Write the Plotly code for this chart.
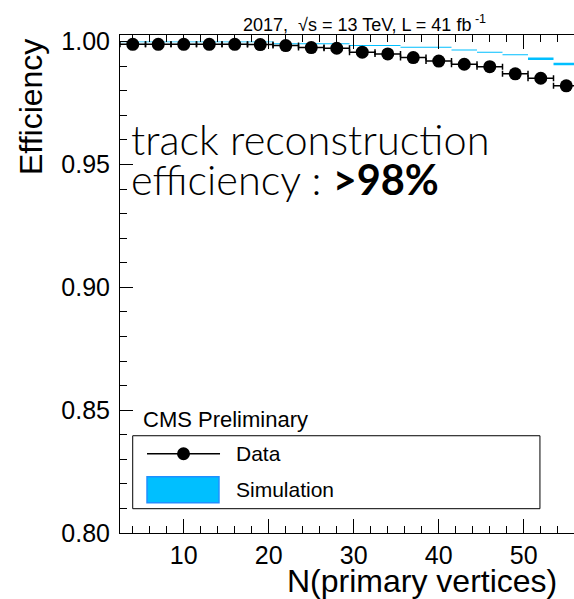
import plotly.graph_objects as go

# Number of primary vertices: bin centres, bin half-widths and bin edges
nvtx = [4, 7, 10, 13, 16, 19, 22, 25, 28, 31, 34, 37, 40, 43, 46, 49, 52, 55]
nvtx_halfwidth = [1.5, 1.5, 1.5, 1.5, 1.5, 1.5, 1.5, 1.5, 1.5,
                  1.5, 1.5, 1.5, 1.5, 1.5, 1.5, 1.5, 1.5, 1.5]
nvtx_edges = [2.5, 5.5, 8.5, 11.5, 14.5, 17.5, 20.5, 23.5, 26.5, 29.5,
              32.5, 35.5, 38.5, 41.5, 44.5, 47.5, 50.5, 53.5, 56.5]

# Track reconstruction efficiency in data
eff_data = [0.9989, 0.9989, 0.9989, 0.9989, 0.9989, 0.9988, 0.9984, 0.9976, 0.9973,
            0.9957, 0.9950, 0.9935, 0.9921, 0.9908, 0.9898, 0.9869, 0.9851, 0.9820]

# Simulated efficiency and its uncertainty
eff_sim = [0.9999, 0.9999, 0.9999, 0.9999, 0.9999, 0.9999, 0.9991, 0.9991, 0.9991,
           0.9984, 0.9984, 0.9977, 0.9977, 0.9966, 0.9957, 0.9947, 0.9930, 0.9909]
eff_sim_err = [0.0002, 0.0002, 0.0002, 0.0002, 0.0002, 0.0002, 0.0002, 0.0002, 0.0002,
               0.0002, 0.0002, 0.0002, 0.0002, 0.0002, 0.0002, 0.0002, 0.0005, 0.00055]

x_ticks = [10, 20, 30, 40, 50]
y_ticks = [0.80, 0.85, 0.90, 0.95, 1.00]

SANS = "Liberation Sans, Arial, Helvetica, sans-serif"
SIM_FILL = "#00bfff"
SIM_LINE = "#1e90ff"

# step band edges for the simulation (last value repeated to close the final bin)
sim_lo = [v - e for v, e in zip(eff_sim, eff_sim_err)]
sim_hi = [v + e for v, e in zip(eff_sim, eff_sim_err)]
sim_lo = sim_lo + sim_lo[-1:]
sim_hi = sim_hi + sim_hi[-1:]

fig = go.Figure()

fig.add_trace(go.Scatter(
    x=nvtx_edges, y=sim_lo, mode="lines", line=dict(width=0, shape="hv"),
    hoverinfo="skip", showlegend=False,
))
fig.add_trace(go.Scatter(
    x=nvtx_edges, y=sim_hi, mode="lines", line=dict(width=0, shape="hv"),
    fill="tonexty", fillcolor=SIM_FILL, name="Simulation", showlegend=False,
))

fig.add_trace(go.Scatter(
    x=nvtx, y=eff_data, mode="markers", name="Data",
    marker=dict(symbol="circle", size=13, color="black"),
    error_x=dict(type="data", array=nvtx_halfwidth, symmetric=True,
                 color="black", thickness=1.5, width=3),
    showlegend=False,
))

axis_font = dict(family=SANS, size=25, color="black")

fig.update_layout(
    width=574, height=599,
    margin=dict(l=120, r=0, t=35, b=66, pad=0),
    paper_bgcolor="white", plot_bgcolor="white",
    showlegend=False,
    xaxis=dict(
        range=[2.5, 55.91], tickvals=x_ticks, ticktext=[str(v) for v in x_ticks],
        ticks="inside", ticklen=14, tickwidth=1, tickcolor="black",
        showline=True, linecolor="black", linewidth=1, mirror="ticks",
        showgrid=False, zeroline=False, tickfont=axis_font,
        ticklabelstandoff=0,
        minor=dict(dtick=2, tick0=0, ticks="inside", ticklen=7,
                   tickcolor="black", tickwidth=1, showgrid=False),
    ),
    yaxis=dict(
        range=[0.8, 1.0027], tickvals=y_ticks, tickformat=".2f",
        ticks="inside", ticklen=13, tickwidth=1, tickcolor="black",
        showline=True, linecolor="black", linewidth=1,
        showgrid=False, zeroline=False, tickfont=axis_font,
        ticklabelstandoff=4,
        minor=dict(dtick=0.01, tick0=0.8, ticks="inside", ticklen=7,
                   tickcolor="black", tickwidth=1, showgrid=False),
    ),
    yaxis2=dict(
        overlaying="y", side="right", anchor="x", range=[0.8, 1.0027],
        tickvals=y_ticks, ticks="inside", ticklen=4, tickcolor="black",
        showticklabels=False, showline=False, showgrid=False, zeroline=False,
        minor=dict(dtick=0.01, tick0=0.8, ticks="inside", ticklen=4,
                   tickcolor="black", showgrid=False),
    ),
)

annotations = [
    # axis titles
    dict(text="Efficiency", xref="paper", yref="paper", x=0, y=1,
         xshift=-89, yshift=-2, xanchor="center", yanchor="top", textangle=-90,
         showarrow=False, font=dict(family=SANS, size=32, color="black")),
    dict(text="N(primary vertices)", xref="paper", yref="paper", x=0.968, y=0,
         yshift=-28, xanchor="right", yanchor="top",
         showarrow=False, font=dict(family=SANS, size=32, color="black")),
    # header
    dict(text="2017,  \u221as = 13 TeV, L = 41 fb<sup> -1</sup>", xref="paper", yref="paper",
         x=0.266, y=1, yshift=-2, xanchor="left", yanchor="bottom",
         showarrow=False, font=dict(family=SANS, size=18, color="black")),
    # headline text, one annotation per line
    dict(text="track reconstruction", xref="paper", yref="paper",
         x=0.02, y=0.845, xanchor="left", yanchor="top", align="left",
         showarrow=False, font=dict(family="Lato", size=41.5, weight=300, color="black")),
    dict(text="efficiency : <b>>98%</b>", xref="paper", yref="paper",
         x=0.02, y=0.765, xanchor="left", yanchor="top", align="left",
         showarrow=False, font=dict(family="Lato", size=41.5, weight=300, color="black")),
    # legend header and entries
    dict(text="CMS Preliminary", xref="paper", yref="paper", x=0.046, y=0.2274,
         xanchor="left", yanchor="middle", showarrow=False,
         font=dict(family=SANS, size=22, color="black")),
    dict(text="Data", xref="paper", yref="paper", x=0.2500, y=0.1591,
         xanchor="left", yanchor="middle", showarrow=False,
         font=dict(family=SANS, size=21, color="black")),
    dict(text="Simulation", xref="paper", yref="paper", x=0.2500, y=0.0869,
         xanchor="left", yanchor="middle", showarrow=False,
         font=dict(family=SANS, size=21, color="black")),
]
fig.update_layout(annotations=annotations)

shapes = [
    # legend frame
    dict(type="rect", xref="paper", yref="paper", x0=0.028, x1=0.925, y0=0.0488, y1=0.1953,
         line=dict(color="black", width=1), fillcolor="white", layer="above"),
    # Data key: line with marker
    dict(type="line", xref="paper", yref="paper", x0=0.0595, x1=0.2203, y0=0.1591, y1=0.1591,
         line=dict(color="black", width=1.5), layer="above"),
    dict(type="circle", xref="paper", yref="paper", xsizemode="pixel", ysizemode="pixel",
         xanchor=0.1399, yanchor=0.1591, x0=-6.5, x1=6.5, y0=-6.5, y1=6.5,
         fillcolor="black", line=dict(color="black", width=0), layer="above"),
    # Simulation key: filled box
    dict(type="rect", xref="paper", yref="paper", x0=0.0595, x1=0.218, y0=0.0608, y1=0.113,
         fillcolor=SIM_FILL, line=dict(color=SIM_LINE, width=1.5), layer="above"),
]
fig.update_layout(shapes=shapes)

fig.write_html("out.html")
